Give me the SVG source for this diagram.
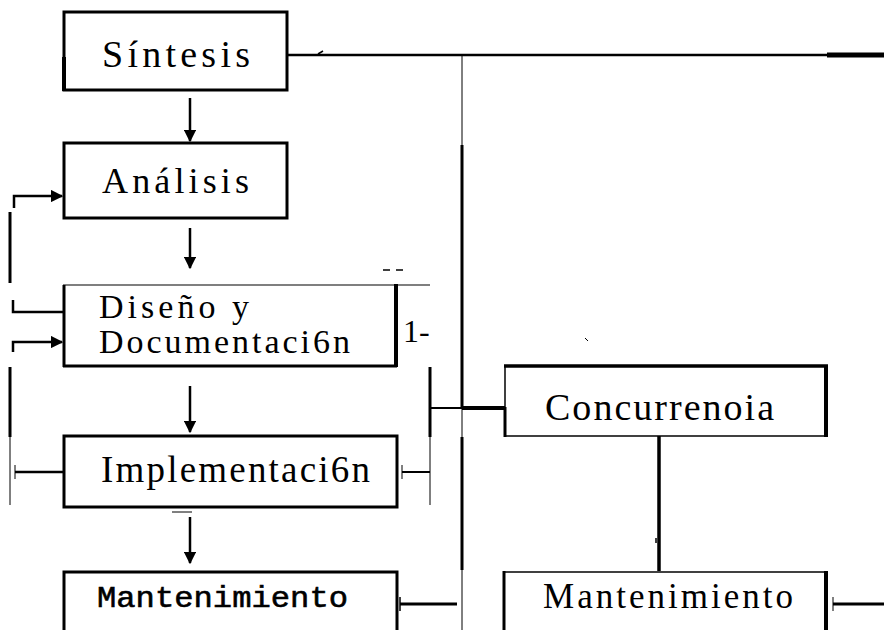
<svg xmlns="http://www.w3.org/2000/svg" width="884" height="630" viewBox="0 0 884 630">
  <style>
    .box { fill: #fff; stroke: #000; stroke-width: 3; }
    .edge { fill: none; stroke: #000; stroke-linecap: butt; }
    .lbl { font-family: "Liberation Serif", "Times New Roman", serif; fill: #000; }
    .mono { font-family: "Liberation Mono", "Courier New", monospace; fill: #000; stroke: #000; stroke-width: 0.6; }
    .wire { fill: none; stroke: #000; stroke-linecap: butt; }
  </style>
  <defs>
    <marker id="head" viewBox="0 0 10 10" refX="9" refY="5" markerWidth="5" markerHeight="5" orient="auto" markerUnits="strokeWidth">
      <path d="M0,0 L10,5 L0,10 z" fill="#000"/>
    </marker>
  </defs>
  <rect width="884" height="630" fill="#fff"/>

  <!-- connectors -->
  <g id="connectors">
    <!-- top bus -->
    <path class="wire" d="M288 55 H884" stroke-width="2.5"/>
    <path class="wire" d="M827 55 H884" stroke-width="5"/>
    <path class="wire" d="M318 54 l5 -3" stroke-width="1.5"/>
    <!-- central trunk -->
    <path class="wire" d="M462 55 V145" stroke-width="1"/>
    <path class="wire" d="M462 145 V408" stroke-width="3"/>
    <path class="wire" d="M462 408 V437" stroke-width="1"/>
    <path class="wire" d="M462 437 V570" stroke-width="3"/>
    <path class="wire" d="M462 570 V630" stroke-width="1"/>
    <!-- branch to Concurrencia -->
    <path class="wire" d="M430 408 H505" stroke-width="2"/>
    <path class="wire" d="M462 408 H505" stroke-width="4"/>
    <path class="wire" d="M430 367 V437" stroke-width="3"/>
    <path class="wire" d="M430 437 V505" stroke-width="1"/>
    <!-- Concurrencia to Mantenimiento -->
    <path class="wire" d="M659 436 V571" stroke-width="3.5"/>
    <path class="wire" d="M656 538 v5" stroke-width="1.5"/>
    <path class="wire" d="M585 338 l3 3" stroke-width="1"/>
    <!-- main flow -->
    <path class="wire" d="M190 98 V141" stroke-width="2.5" marker-end="url(#head)"/>
    <path class="wire" d="M190 228 V268" stroke-width="2.5" marker-end="url(#head)"/>
    <path class="wire" d="M190 386 V432" stroke-width="2.5" marker-end="url(#head)"/>
    <path class="wire" d="M190 517 V563" stroke-width="2.5" marker-end="url(#head)"/>
    <path class="wire" d="M172 512 H192" stroke-width="1"/>
    <path class="wire" d="M383 270 H390 M396 270 H403" stroke-width="1.5"/>
    <!-- feedback rail on the left -->
    <path class="wire" d="M10 212 V283" stroke-width="3"/>
    <path class="wire" d="M10 367 V437" stroke-width="3"/>
    <path class="wire" d="M10 437 V505" stroke-width="1"/>
    <path class="wire" d="M14 208 V196 H62" stroke-width="2.5" marker-end="url(#head)"/>
    <path class="wire" d="M13 300 V312 H64" stroke-width="2.5"/>
    <path class="wire" d="M13 352 V342 H62" stroke-width="2.5" marker-end="url(#head)"/>
    <path class="wire" d="M15 465 V479" stroke-width="1"/>
    <path class="wire" d="M15 472 H64" stroke-width="2.5"/>
    <!-- side ties -->
    <path class="wire" d="M402 465 V479" stroke-width="1"/>
    <path class="wire" d="M402 472 H430" stroke-width="2"/>
    <path class="wire" d="M400 597 V611" stroke-width="1.5"/>
    <path class="wire" d="M400 604 H457" stroke-width="3"/>
    <path class="wire" d="M833 597 V611" stroke-width="1"/>
    <path class="wire" d="M833 604 H884" stroke-width="3"/>
  </g>

  <g id="sintesis">
    <rect class="box" x="64" y="12" width="223" height="78" stroke-width="2.5"/>
    <path class="edge" d="M64 57 V91" stroke-width="4"/>
    <text class="lbl" x="102" y="67" font-size="38" textLength="148" lengthAdjust="spacing">Síntesis</text>
  </g>

  <g id="analisis">
    <rect class="box" x="64" y="143" width="223" height="75"/>
    <text class="lbl" x="102" y="193" font-size="36" textLength="147" lengthAdjust="spacing">Análisis</text>
  </g>

  <g id="diseno">
    <rect x="64" y="285" width="332" height="81" fill="#fff"/>
    <path class="edge" d="M63 285 H430" stroke-width="1.2"/>
    <path class="edge" d="M64 285 V367" stroke-width="3"/>
    <path class="edge" d="M63 366 H397" stroke-width="3"/>
    <path class="edge" d="M396 284 V367" stroke-width="4"/>
    <text class="lbl" x="99" y="318" font-size="34" textLength="150" lengthAdjust="spacing">Diseño y</text>
    <text class="lbl" x="99" y="353" font-size="34" textLength="251" lengthAdjust="spacing">Documentaci6n</text>
    <text class="lbl" x="403" y="342" font-size="32">1-</text>
  </g>

  <g id="implementacion">
    <rect class="box" x="64" y="436" width="333" height="71"/>
    <text class="lbl" x="101" y="482" font-size="37" textLength="269" lengthAdjust="spacing">Implementaci6n</text>
  </g>

  <g id="mantenimiento-izq">
    <path class="edge" d="M64 640 V572 H397 V640" stroke-width="3" fill="#fff"/>
    <text class="mono" x="97" y="607" font-size="30" textLength="251" lengthAdjust="spacingAndGlyphs">Mantenimiento</text>
  </g>

  <g id="concurrencia">
    <rect x="505" y="366" width="321" height="70" fill="#fff"/>
    <path class="edge" d="M504 366 H828" stroke-width="3.5"/>
    <path class="edge" d="M826 366 V437" stroke-width="4"/>
    <path class="edge" d="M505 436 H828" stroke-width="1.5"/>
    <path class="edge" d="M505 366 V436" stroke-width="1.5"/>
    <path class="edge" d="M505 407 V437" stroke-width="3"/>
    <text class="lbl" x="545" y="420" font-size="38" textLength="229" lengthAdjust="spacing">Concurrenoia</text>
  </g>

  <g id="mantenimiento-der">
    <rect x="503" y="572" width="323" height="60" fill="#fff"/>
    <path class="edge" d="M503 572 H828" stroke-width="1.5"/>
    <path class="edge" d="M504 571 V630" stroke-width="3"/>
    <path class="edge" d="M826 571 V630" stroke-width="4"/>
    <text class="lbl" x="543" y="608" font-size="35" textLength="250" lengthAdjust="spacing">Mantenimiento</text>
  </g>
</svg>
